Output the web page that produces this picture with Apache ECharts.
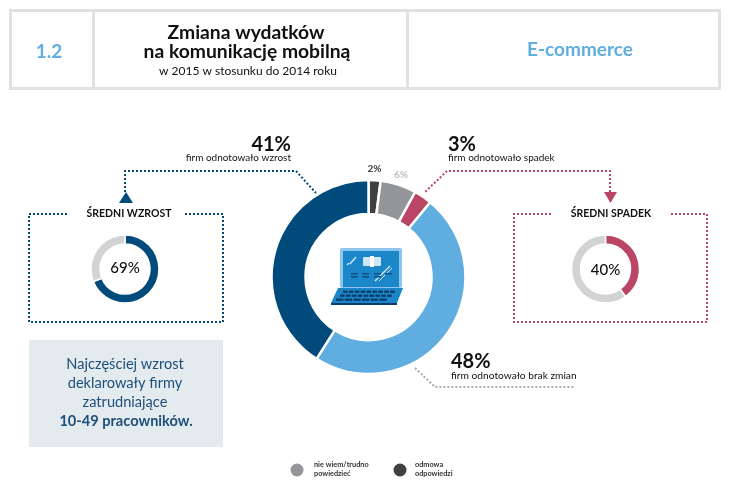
<!DOCTYPE html>
<html><head><meta charset="utf-8">
<style>html,body{margin:0;padding:0;background:#fff}#c{width:730px;height:484px}</style>
<script src="https://cdn.jsdelivr.net/npm/echarts@6/dist/echarts.min.js"></script>
</head><body><div id="c"></div>
<script>
const mainNames = ['odmowa odpowiedzi','nie wiem/trudno powiedzieć','spadek','brak zmian','wzrost'];
const mainValues = [2,6,3,48,41];
const mainColors = ['#404041','#939598','#ba4565','#60aee0','#004b7c'];
const avgRise = [69,31];
const avgFall = [40,60];
const FONT = 'Lato';
const BLUE='#004b7c', RED='#ba4565', LIGHT='#60aee0', TRACK='#d1d3d4', INK='#111';

function txt(x,y,text,size,weight,fill,align){
  return {type:'text',x,y,silent:true,style:{text,fontFamily:FONT,fontSize:size,fontWeight:weight||'normal',fill:fill||INK,align:align||'center',verticalAlign:'middle'}};
}
function dots(points,color){
  return {type:'polyline',silent:true,shape:{points},style:{stroke:color,lineWidth:2,lineDash:[2,2],fill:null}};
}
function rect(x,y,w,h,fill,r){
  return {type:'rect',silent:true,shape:{x,y,width:w,height:h,r:r||0},style:{fill}};
}
function poly(points,fill){
  return {type:'polygon',silent:true,shape:{points},style:{fill}};
}
function line(x1,y1,x2,y2,color,w){
  return {type:'line',silent:true,shape:{x1,y1,x2,y2},style:{stroke:color,lineWidth:w||1}};
}
const g = [];
// header
g.push({type:'rect',silent:true,shape:{x:10.5,y:10.5,width:709,height:78},style:{fill:'#fff',stroke:'#e1e1e1',lineWidth:3}});
g.push(line(93.5,10,93.5,89,'#e1e1e1',3), line(407.5,10,407.5,89,'#e1e1e1',3));
g.push(txt(49,52,'1.2',19,'bold',LIGHT));
g.push(txt(246,33,'Zmiana wydatków',19.3,'bold'), txt(247,52,'na komunikację mobilną',19.3,'bold'), txt(248,71,'w 2015 w stosunku do 2014 roku',12,'normal'));
g.push(txt(580,50,'E-commerce',19,'bold',LIGHT));
// callouts
g.push(txt(291,145,'41%',20,'bold',INK,'right'), txt(291,158,'firm odnotowało wzrost',10,'normal',INK,'right'));
g.push(txt(448,145,'3%',20,'bold',INK,'left'), txt(448,158,'firm odnotowało spadek',10,'normal',INK,'left'));
g.push(txt(451,362,'48%',20,'bold',INK,'left'), txt(451,376,'firm odnotowało brak zmian',10.2,'normal',INK,'left'));
g.push(txt(374.5,169,'2%',10,'bold','#404041'), txt(401,175,'6%',10,'bold','#bcbec0'));
// connector lines
g.push(dots([[125,192],[125,171],[296,171],[316,193]],BLUE));
g.push(poly([[126,192],[133,203],[119,203]],BLUE));
g.push(dots([[610,192],[610,171],[447,171],[424,193]],RED));
g.push(poly([[604,192],[617,192],[610.5,203]],RED));
g.push(dots([[415,368],[435,387],[575,387]],'#a7a9ac'));
// frames
g.push(dots([[67,214],[29,214],[29,322],[223,322],[223,214],[185,214]],BLUE));
g.push(txt(129,214,'ŚREDNI WZROST',10.5,'bold'));
g.push(dots([[551,214],[514,214],[514,322],[707,322],[707,214],[669,214]],RED));
g.push(txt(611,214,'ŚREDNI SPADEK',10.5,'bold'));
g.push(txt(125,268,avgRise[0]+'%',15,'500'), txt(605.5,270,avgFall[0]+'%',15,'500'));
// note box
g.push(rect(29,340,194,107,'#e3ebef'));
const NOTE='#1f4e79';
g.push(txt(125,364,'Najczęściej wzrost',14.6,'normal',NOTE), txt(125,383,'deklarowały firmy',14.6,'normal',NOTE), txt(125,402,'zatrudniające',14.6,'normal',NOTE), txt(126,421,'10-49 pracowników.',14.6,'bold',NOTE));
// legend
g.push({type:'circle',silent:true,shape:{cx:297,cy:470,r:6.5},style:{fill:'#939598'}});
g.push({type:'circle',silent:true,shape:{cx:400,cy:470,r:6.5},style:{fill:'#404041'}});
g.push(txt(314,465,'nie wiem/trudno',7.3,'bold','#333','left'), txt(314,474,'powiedzieć',7.3,'bold','#333','left'));
g.push(txt(415,465,'odmowa',7.3,'bold','#333','left'), txt(415,474,'odpowiedzi',7.3,'bold','#333','left'));
// laptop
g.push(rect(340,248,62,40,'#8cc6ee',2), rect(343,251,56,36,'#1b87c9'));
g.push(rect(363,257,18,9,'#cfe6f6',1), rect(370,256,4,11,'#ffffff'));
g.push(line(350,264,356,257,'#cfe6f6',1.5), line(347,265,349,263,'#cfe6f6',1.5));
g.push(line(375,281,390,266,'#cfe6f6',1.5), line(379,281,392,268,'#cfe6f6',1));
g.push(rect(351,273,7,1.5,'#0e4f80'), rect(362,273,7,1.5,'#0e4f80'), rect(374,273,7,1.5,'#0e4f80'), rect(385,273,7,1.5,'#0e4f80'));
g.push(rect(351,276,7,1.5,'#0e4f80'), rect(362,276,7,1.5,'#0e4f80'), rect(374,276,7,1.5,'#0e4f80'));
g.push(poly([[338,288],[403,288],[397,303],[331,303]],'#1b87c9'));
g.push(poly([[331,303],[397,303],[397,305],[331,305]],'#0e3f6b'));
[[343,290.5,53],[340,294.5,53],[336,298.5,52]].forEach(function(row,i){
  const n=i===2?6:9, w=row[2]/n;
  for(let k=0;k<n;k++) g.push(rect(row[0]+k*w,row[1],w-1.2,2.4,'#0e3f6b'));
});

function donut(center,radius,values,colors,names,border){
  return {type:'pie',center,radius,startAngle:90,clockwise:true,silent:true,animation:false,
    label:{show:false},labelLine:{show:false},
    itemStyle:{borderColor:'#fff',borderWidth:border},
    data:values.map((v,i)=>({value:v,name:names?names[i]:String(i),itemStyle:{color:colors[i]}}))};
}
const chart = echarts.init(document.getElementById('c'),null,{renderer:'canvas'});
chart.setOption({
  animation:false,backgroundColor:'#fff',
  series:[
    donut([368.5,277],[63,97],mainValues,mainColors,mainNames,2.5),
    donut([125,269],[25,34],avgRise,[BLUE,TRACK],null,1.5),
    donut([605.5,269],[25,34],avgFall,[RED,TRACK],null,1.5)
  ],
  graphic:{elements:g}
});
</script></body></html>
